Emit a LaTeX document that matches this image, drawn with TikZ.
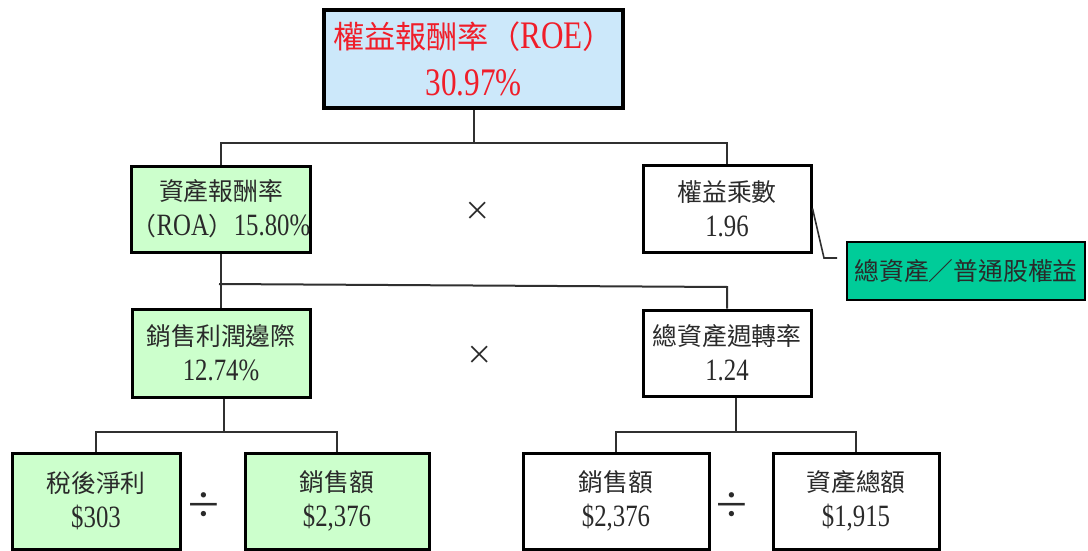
\documentclass[tikz,border=0pt]{standalone}
\usepackage{fontspec}
\setmainfont[FakeStretch=0.8]{Liberation Serif}
\newfontfamily\cjk[Scale=0.8]{Noto Sans CJK TC}
\newcommand\C[1]{{\cjk #1}}
\definecolor{roeblue}{HTML}{CCE8FA}
\definecolor{lgreen}{HTML}{CCFFCC}
\definecolor{notegreen}{HTML}{00CC99}
\definecolor{roered}{HTML}{F01E2A}
\definecolor{txt}{HTML}{2A2A2A}
\definecolor{wire}{HTML}{303030}
\begin{document}
\begin{tikzpicture}[x=1pt,y=-1pt,
  box/.style={draw=black, line width=3pt, inner sep=0pt, align=center, text=txt,
    font=\fontsize{31}{35}\selectfont},
  notebox/.style={draw=black, line width=1.6pt, fill=notegreen, inner sep=0pt, align=center,
    text=txt, font=\fontsize{31}{35}\selectfont},
  wire/.style={draw=wire, line width=2pt},
  op/.style={inner sep=0pt, text=txt}]
\useasboundingbox (0,0) rectangle (1088,551);

\node[box, fill=roeblue, text=roered, line width=3.5pt, minimum width=299pt, minimum height=98pt,
  font=\fontsize{39}{47}\selectfont] (roe) at (473.5,59)
  {\C{權益報酬率（}ROE\C{）}\\30.97\%};

\node[box, fill=lgreen, minimum width=178pt, minimum height=86pt] (roa) at (221,209)
  {\C{資產報酬率}\\\C{（}ROA\C{）}15.80\%};
\node[box, fill=white, minimum width=168pt, minimum height=87pt] (em) at (727,208.5)
  {\C{權益乘數}\\1.96};
\node[notebox, minimum width=238pt, minimum height=58pt] (note) at (966,271)
  {\C{總資產／普通股權益}};

\node[box, fill=lgreen, minimum width=178pt, minimum height=88pt] (npm) at (221,353)
  {\C{銷售利潤邊際}\\12.74\%};
\node[box, fill=white, minimum width=168pt, minimum height=86pt] (tat) at (727,353)
  {\C{總資產週轉率}\\1.24};

\node[box, fill=lgreen, minimum width=168pt, minimum height=96pt] (ni) at (96,501)
  {\C{稅後淨利}\\\$303};
\node[box, fill=lgreen, minimum width=184pt, minimum height=96pt] (s1) at (337,501)
  {\C{銷售額}\\\$2,376};
\node[box, fill=white, minimum width=186pt, minimum height=96pt] (s2) at (616,501)
  {\C{銷售額}\\\$2,376};
\node[box, fill=white, minimum width=166pt, minimum height=96pt] (ta) at (856,501)
  {\C{資產總額}\\\$1,915};

% operators
\node[op, font=\fontsize{33}{33}\selectfont] (x1) at (478,211) {\C{×}};
\node[op, font=\fontsize{33}{33}\selectfont] (x2) at (480,355) {\C{×}};
\node[op, font=\fontsize{46}{46}\selectfont] (d1) at (204,506) {\C{÷}};
\node[op, font=\fontsize{46}{46}\selectfont] (d2) at (732,506) {\C{÷}};

% connectors
\coordinate (j1) at (473.5,143);
\path[wire] (roe.south) -- (j1);
\path[wire] (roa.north) |- (j1) -| (em.north);

\coordinate (j2) at (219,284);
\coordinate (j3) at (727,287);
\path[wire] (roa.south) -- (npm.north);
\path[wire] (j2) -- (j3) -- (tat.north);

\coordinate (j4) at (224,432);
\path[wire] ([xshift=3pt]npm.south) -- (j4);
\path[wire] (ni.north) |- (j4) -| (s1.north);

\coordinate (j5) at (736,432);
\path[wire] ([xshift=9pt]tat.south) -- (j5);
\path[wire] (s2.north) |- (j5) -| (ta.north);

\coordinate (c1) at (824,258);
\coordinate (c2) at (837,258);
\path[wire, line width=1.6pt] (em.east) -- (c1) -- (c2);

\end{tikzpicture}
\end{document}
